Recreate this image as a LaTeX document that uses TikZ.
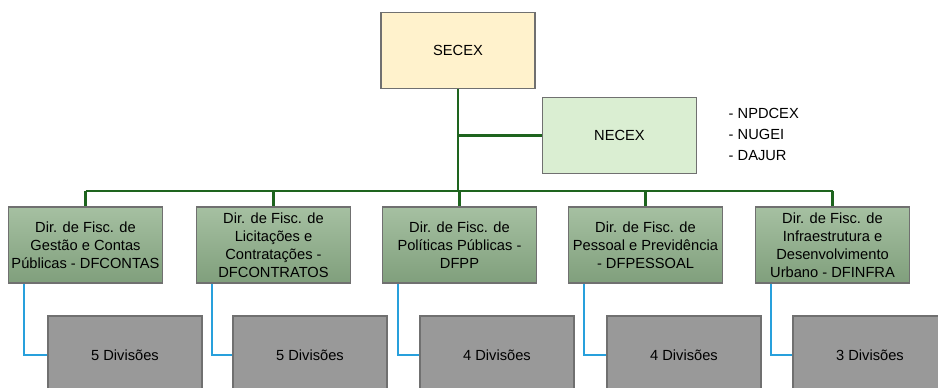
\documentclass[tikz,border=0pt]{standalone}
\usepackage{fontspec}
\setmainfont{Liberation Sans}
\usepackage{tikz}

\definecolor{secexfill}{RGB}{255,242,204}
\definecolor{necexfill}{RGB}{218,238,210}
\definecolor{dirtop}{RGB}{166,192,162}
\definecolor{dirbot}{RGB}{128,159,124}
\definecolor{divfill}{RGB}{153,153,153}
\definecolor{boxline}{RGB}{112,112,112}
\definecolor{trunk}{RGB}{30,100,30}
\definecolor{link}{RGB}{40,160,220}

\begin{document}
\begin{tikzpicture}[x = 0.75pt, y = -0.75pt,
		font = \fontsize{11}{13.5}\selectfont,
		top/.style = {rectangle, draw = boxline, line width = 0.8pt,
		minimum width = 115.5pt, minimum height = 57.5pt},
		dir/.style = {rectangle, draw = boxline, line width = 0.8pt,
		top color = dirtop, bottom color = dirbot, align = center,
		inner sep = 1pt, minimum width = 116pt, minimum height = 57pt},
		div/.style = {rectangle, draw = boxline, line width = 0.8pt,
		fill = divfill, minimum width = 115.5pt, minimum height = 58.5pt},
		tree/.style = {draw = trunk, line width = 2pt},
		sub/.style = {draw = link, line width = 1.8pt}]

		\clip (0,0) rectangle (938,388);

		\node [top, fill = secexfill] (secex) at (458,50.5) {SECEX};
		\node [top, fill = necexfill] (necex) at (619.5,135.5) {NECEX};
		\node [anchor = west, align = left, font = \fontsize{11}{15.75}\selectfont]
		(nucleos) at (724,134) {- NPDCEX\\- NUGEI\\- DAJUR};

		\node [dir] (d_1) at (85.5,245) {Dir. de Fisc. de\\Gestão e Contas\\Públicas - DFCONTAS};
		\node [dir] (d_2) at (273.5,245) {Dir. de Fisc. de\\Licitações e\\Contratações -\\DFCONTRATOS};
		\node [dir] (d_3) at (459.5,245) {Dir. de Fisc. de\\Políticas Públicas -\\DFPP};
		\node [dir] (d_4) at (645.5,245) {Dir. de Fisc. de\\Pessoal e Previdência\\- DFPESSOAL};
		\node [dir] (d_5) at (832.5,245) {Dir. de Fisc. de\\Infraestrutura e\\Desenvolvimento\\Urbano - DFINFRA};

		\node [div] (v_1) at (125,355) {5 Divisões};
		\node [div] (v_2) at (310,355) {5 Divisões};
		\node [div] (v_3) at (497,355) {4 Divisões};
		\node [div] (v_4) at (684,355) {4 Divisões};
		\node [div] (v_5) at (870,355) {3 Divisões};

		\coordinate (bus) at (458,191);

		% green tree
		\draw [tree] (secex.south) -- (secex.south |- bus);
		\draw [tree] (secex.south |- necex.west) -- (necex.west);
		\draw [tree] (d_1.north |- bus) -- (d_5.north |- bus);
		\draw [tree] (d_1.north |- bus) -- (d_1.north);
		\draw [tree] (d_2.north |- bus) -- (d_2.north);
		\draw [tree] (d_3.north |- bus) -- (d_3.north);
		\draw [tree] (d_4.north |- bus) -- (d_4.north);
		\draw [tree] (d_5.north |- bus) -- (d_5.north);

		% blue links
		\draw [sub] ([xshift = 12.4pt]d_1.south west) |- (v_1.west);
		\draw [sub] ([xshift = 12.4pt]d_2.south west) |- (v_2.west);
		\draw [sub] ([xshift = 12.4pt]d_3.south west) |- (v_3.west);
		\draw [sub] ([xshift = 12.4pt]d_4.south west) |- (v_4.west);
		\draw [sub] ([xshift = 12.4pt]d_5.south west) |- (v_5.west);
\end{tikzpicture}
\end{document}
